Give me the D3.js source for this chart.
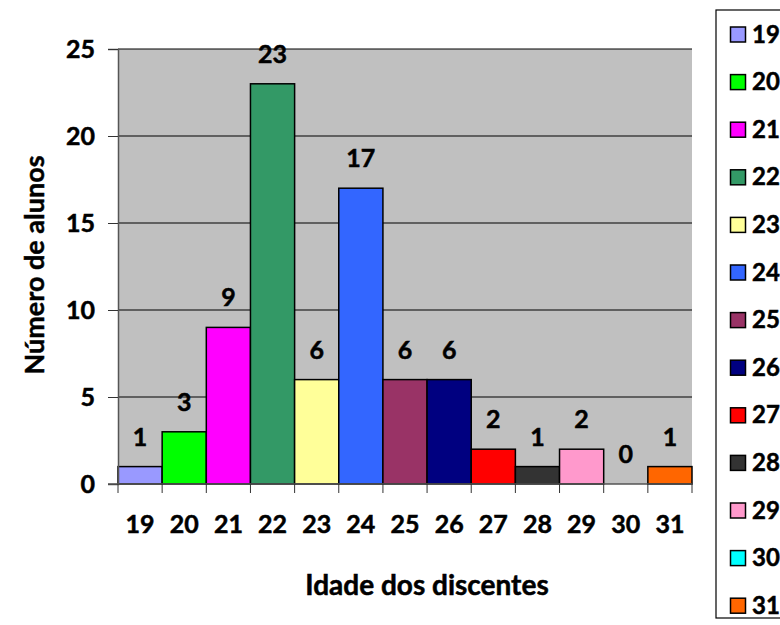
<!DOCTYPE html>
<html><head><meta charset="utf-8">
<script src="https://cdn.jsdelivr.net/npm/d3@7"></script>
<style>body{margin:0;background:#fff}svg{display:block}text{font-family:Lato,"Open Sans",sans-serif;font-weight:bold;fill:#000;stroke:#000;stroke-width:0.5px}</style>
</head><body><svg id="c" width="780" height="625"></svg>
<script>
const categories = ["19","20","21","22","23","24","25","26","27","28","29","30","31"];
const values = [1,3,9,23,6,17,6,6,2,1,2,0,1];
const colors = ["#9999FF","#00FF00","#FF00FF","#339966","#FFFF99","#3366FF","#993366","#000080","#FF0000","#333333","#FF99CC","#00FFFF","#FF6600"];
const yTicks = [0,5,10,15,20,25];
const xTitle = "Idade dos discentes";
const yTitle = "Número de alunos";

const svg = d3.select("#c");
const L=118,R=692,T=49,B=484;
const x = d3.scaleBand().domain(categories).range([L,R]).padding(0);
const y = d3.scaleLinear().domain([0,25]).range([B,T]);

svg.append("rect").attr("x",L).attr("y",T).attr("width",R-L).attr("height",B-T).attr("fill","#C0C0C0");
// gridlines
svg.append("g").selectAll("line").data(yTicks.filter(d=>d>0)).join("line")
  .attr("x1",L).attr("x2",R).attr("y1",d=>y(d)).attr("y2",d=>y(d)).attr("stroke","#000").attr("stroke-width",1);
// bars
svg.append("g").selectAll("rect").data(values).join("rect")
  .attr("x",(d,i)=>x(categories[i])).attr("width",x.bandwidth())
  .attr("y",d=>y(d)).attr("height",d=>B-y(d))
  .attr("fill",(d,i)=>colors[i]).attr("stroke","#000").attr("stroke-width",1.5);
// value labels
svg.append("g").selectAll("text").data(values).join("text")
  .attr("x",(d,i)=>x(categories[i])+x.bandwidth()/2).attr("y",d=>y(d)-21)
  .attr("text-anchor","middle").attr("font-size",25).text(d=>d);
// y axis
const ya = svg.append("g").attr("transform",`translate(${L},0)`)
  .call(d3.axisLeft(y).tickValues(yTicks).tickSize(10).tickPadding(13));
ya.select(".domain").attr("stroke","#555").attr("stroke-width",1.5);
ya.selectAll(".tick line").attr("stroke","#333");
ya.selectAll("text").attr("font-size",25).attr("font-family","Lato,sans-serif").attr("font-weight","bold").attr("fill","#000");
// x axis
svg.append("line").attr("x1",L-10).attr("x2",R).attr("y1",B).attr("y2",B).attr("stroke","#555").attr("stroke-width",1.5);
const bounds = categories.map(c=>x(c)).concat([R]);
svg.append("g").selectAll("line").data(bounds).join("line")
  .attr("x1",d=>d).attr("x2",d=>d).attr("y1",B).attr("y2",B+9).attr("stroke","#333");
svg.append("g").selectAll("text").data(categories).join("text")
  .attr("x",d=>x(d)+x.bandwidth()/2).attr("y",533).attr("text-anchor","middle").attr("font-size",25).text(d=>d);
svg.append("text").attr("x",427).attr("y",595).attr("text-anchor","middle").attr("font-size",28).text(xTitle);
svg.append("text").attr("transform","translate(44,265) rotate(-90)").attr("text-anchor","middle").attr("font-size",27).text(yTitle);
// legend
svg.append("rect").attr("x",716).attr("y",10).attr("width",100).attr("height",608).attr("fill","#fff").attr("stroke","#000").attr("stroke-width",1.2);
const lg = svg.append("g").selectAll("g").data(categories).join("g")
  .attr("transform",(d,i)=>`translate(730,${34.5+i*47.6})`);
lg.append("rect").attr("x",0.5).attr("y",-7.5).attr("width",15).attr("height",15)
  .attr("fill",(d,i)=>colors[i]).attr("stroke","#000").attr("stroke-width",1.5);
lg.append("text").attr("x",22).attr("y",8).attr("font-size",24).text(d=>d);
</script></body></html>
